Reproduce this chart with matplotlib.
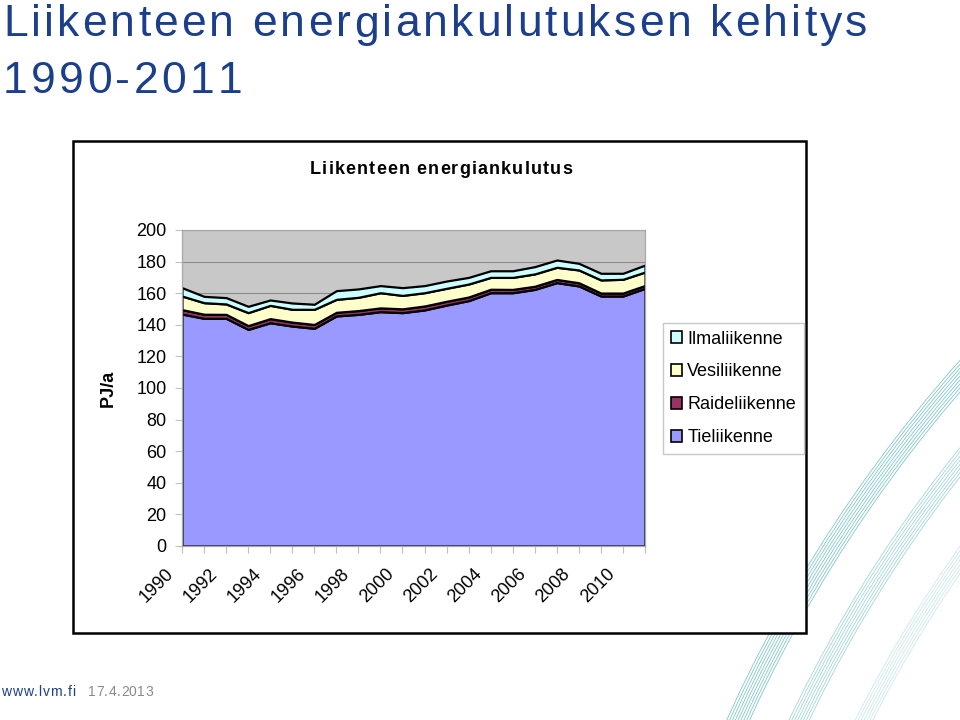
import numpy as np
import matplotlib
matplotlib.use('Agg')
import matplotlib.pyplot as plt
from matplotlib.patches import Rectangle, Patch, Arc
from matplotlib.font_manager import findfont, FontProperties
from matplotlib.ft2font import FT2Font

plt.rcParams['font.family'] = ['Liberation Sans', 'DejaVu Sans']

years = list(range(1990, 2012))
tie = [146.8, 144.1, 144.1, 137.1, 141.3, 139.2, 137.8, 145.6, 146.6, 148.3, 147.7,
       149.4, 152.5, 155.3, 160.3, 160.3, 162.4, 166.7, 164.6, 158.2, 158.2, 163.1]
raide = [2.8, 2.6, 2.5, 2.4, 2.6, 2.5, 2.4, 2.3, 2.4, 2.4, 2.4,
         2.5, 2.4, 2.3, 2.2, 2.1, 2.0, 2.0, 2.0, 1.9, 1.9, 1.8]
vesi = [8.6, 7.3, 6.6, 8.2, 8.4, 8.1, 9.6, 8.2, 8.4, 9.6, 8.5,
        8.4, 8.2, 8.2, 7.5, 7.6, 7.8, 7.7, 8.1, 8.3, 8.7, 8.5]
ilma = [5.3, 4.0, 4.0, 4.0, 3.4, 4.0, 3.2, 5.5, 5.3, 4.5, 4.9,
        4.5, 4.6, 4.2, 4.2, 4.2, 4.6, 4.6, 4.2, 4.2, 3.8, 4.4]

labels = ['Tieliikenne', 'Raideliikenne', 'Vesiliikenne', 'Ilmaliikenne']
colors = ['#9999FF', '#993366', '#FFFFCC', '#CCFFFF']
label_years = list(range(1990, 2011, 2))

W, H = 960, 720
DPI = 100
fig = plt.figure(figsize=(9.6, 7.2), dpi=DPI)


def spaced_text(x, y, s, width, size, weight='normal', **kw):
    # draw text letter by letter so it spans `width` pixels (letter-spaced look)
    ft = FT2Font(findfont(FontProperties(family='Liberation Sans', weight=weight)))
    ft.set_size(size, 72)
    adv = [ft.load_char(ord(c)).linearHoriAdvance / 65536 * DPI / 72 for c in s]
    track = (width - sum(adv) + adv[-1] * 0.1) / (len(s) - 1)
    pos = x
    for c, a in zip(s, adv):
        fig.text(pos / W, 1 - y / H, c, fontsize=size, fontweight=weight,
                 ha='left', va='baseline', **kw)
        pos += a + track


# decorative arcs in the bottom right corner (pixel coords, y down)
deco = fig.add_axes([0, 0, 1, 1], zorder=0)
deco.set_xlim(0, W)
deco.set_ylim(H, 0)
deco.axis('off')
for r0, n, a in [(1392, 9, 0.75), (1338, 8, 0.55), (1281, 7, 0.3)]:
    for i in range(n):
        r = r0 + i * 2.6
        deco.add_patch(Arc((2015, 1300), 2 * r, 2 * r, theta1=195, theta2=240,
                           color='#58B4BC', lw=0.6, alpha=a))

# chart frame
fig.patches.append(Rectangle((73 / W, 1 - 633 / H), (806 - 73) / W, (633 - 141) / H,
                             transform=fig.transFigure, facecolor='white',
                             edgecolor='black', lw=1.8, zorder=1))

ax = fig.add_axes([182 / W, 1 - 546 / H, (645 - 182) / W, (546 - 230) / H], zorder=2)
ax.set_facecolor('#C8C8C8')
ax.stackplot(years, tie, raide, vesi, ilma, colors=colors,
             edgecolor='black', linewidth=1.6, labels=labels)
ax.set_xlim(1990, 2011)
ax.set_ylim(0, 200)
ax.set_yticks(range(0, 201, 20))
ax.set_xticks(years)
ax.set_xticklabels([])
for yr in label_years:
    ax.annotate(str(yr), (yr, 0), xycoords=('data', 'axes fraction'),
                xytext=(-17, -19), textcoords='offset pixels', rotation=45,
                ha='right', va='top', rotation_mode='anchor', fontsize=13,
                annotation_clip=False)
ax.yaxis.grid(True, color='#8C8C8C', lw=0.8)
ax.set_axisbelow(True)
for s in ax.spines.values():
    s.set_color('#A8A8A8')
    s.set_linewidth(0.9)
ax.tick_params(axis='both', which='both', color='#C0C0C0', length=5, labelsize=13)
ax.tick_params(axis='y', pad=6)
ax.set_ylabel('PJ/a', fontsize=13, fontweight='bold', labelpad=14)

spaced_text(310, 174, 'Liikenteen energiankulutus', 261, 13, weight='bold')

handles = [Patch(facecolor=c, edgecolor='black', lw=1.2) for c in colors][::-1]
leg = fig.legend(handles, labels[::-1], loc='upper left',
                 bbox_to_anchor=(663 / W, 1 - 323 / H), fontsize=13,
                 frameon=True, fancybox=False, framealpha=1, edgecolor='#C8C8C8',
                 handlelength=0.62, handleheight=0.62, handletextpad=0.3,
                 labelspacing=0.88, borderpad=0.42, borderaxespad=0)
leg.set_zorder(3)

spaced_text(3, 36.5, 'Liikenteen energiankulutuksen kehitys', 862, 32, color='#1B3F8C')
spaced_text(3, 93, '1990-2011', 237, 32, color='#1B3F8C')
spaced_text(1, 696, 'www.lvm.fi', 74, 10, color='#1B3F8C')
spaced_text(88, 696, '17.4.2013', 64, 10, color='#8A8A8A')

fig.savefig('out.png', dpi=DPI)
